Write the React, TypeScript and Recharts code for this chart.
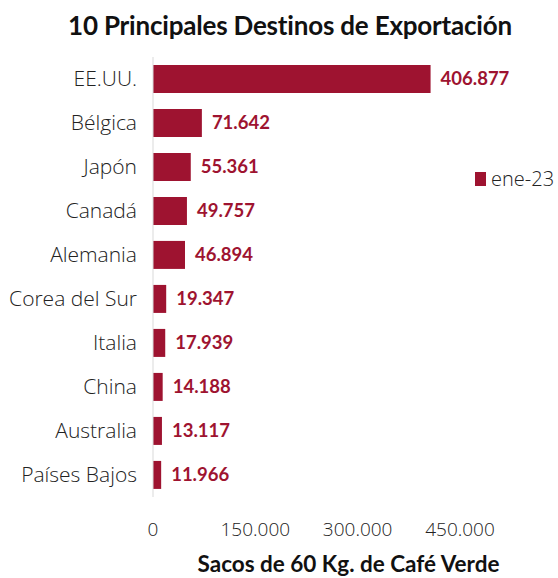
import React from 'react';
import { BarChart, Bar, XAxis, YAxis, LabelList, Label } from 'recharts';

const countries = ['EE.UU.', 'Bélgica', 'Japón', 'Canadá', 'Alemania', 'Corea del Sur', 'Italia', 'China', 'Australia', 'Países Bajos'];
const values = [406877, 71642, 55361, 49757, 46894, 19347, 17939, 14188, 13117, 11966];
const xTicks = [0, 150000, 300000, 450000];
const seriesName = 'ene-23';

const data = countries.map((c, i) => ({ country: c, value: values[i] }));

const fmt = (v: number) => v.toLocaleString('de-DE');
const RED = '#9E1330';
const FONT = '"Open Sans", Lato, sans-serif';

export default function App() {
  return (
    <div style={{ position: 'absolute', left: 0, top: 0, width: 558, height: 578, background: '#fff' }}>
      <div style={{ position: 'absolute', left: 0, top: 9, width: 580, textAlign: 'center', fontFamily: 'Lato, sans-serif', fontWeight: 700, fontSize: 26, color: '#111', letterSpacing: -0.2 }}>
        10 Principales Destinos de Exportación
      </div>
      <div style={{ position: 'absolute', left: 475, top: 165, display: 'flex', alignItems: 'center', fontFamily: FONT, fontSize: 20, fontWeight: 300, color: '#222' }}>
        <span style={{ display: 'inline-block', width: 11, height: 14, background: RED, marginRight: 5 }} />
        <span>{seriesName}</span>
      </div>
      <BarChart
        width={558}
        height={578}
        data={data}
        layout="vertical"
        margin={{ top: 57, right: 98, bottom: 0, left: 0 }}
        barCategoryGap="18%"
      >
        <XAxis
          type="number"
          domain={[0, 450000]}
          ticks={xTicks}
          tickFormatter={fmt}
          axisLine={false}
          tickLine={false}
          tickMargin={20}
          height={81}
          tick={{ fontFamily: FONT, fontSize: 19, fill: '#222', fontWeight: 300 }}
        >
          <Label value="Sacos de 60 Kg. de Café Verde" position="insideBottom" offset={6} dx={42}
            style={{ fontFamily: 'Lato, sans-serif', fontWeight: 700, fontSize: 22.5, fill: '#111' }} />
        </XAxis>
        <YAxis
          type="category"
          dataKey="country"
          width={153}
          axisLine={{ stroke: '#d9d9d9' }}
          tickLine={false}
          tickMargin={10}
          tick={{ fontFamily: FONT, fontSize: 21, fill: '#222', fontWeight: 300 }}
        />
        <Bar dataKey="value" name={seriesName} fill={RED} isAnimationActive={false}>
          <LabelList dataKey="value" position="right" offset={10} formatter={(v: number) => fmt(v)}
            style={{ fontFamily: 'Lato, sans-serif', fontWeight: 700, fontSize: 18.5, fill: RED }} />
        </Bar>
      </BarChart>
    </div>
  );
}
